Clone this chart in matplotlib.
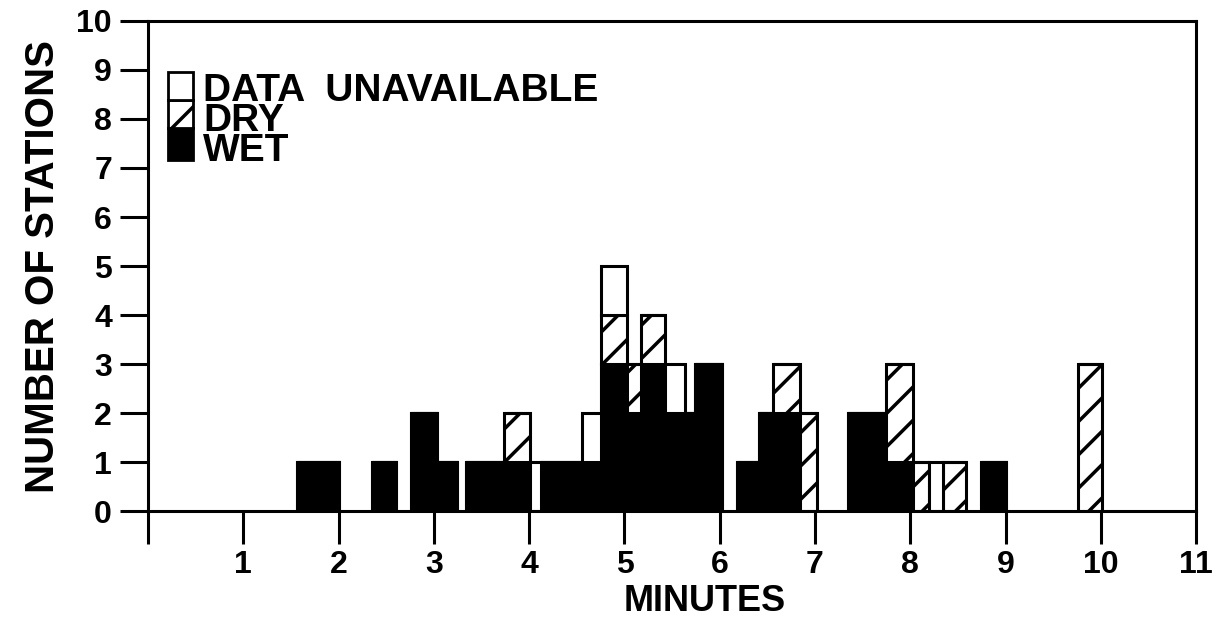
import numpy as np
import matplotlib.pyplot as plt
from matplotlib.patches import Rectangle

# bar edges (minutes) and station counts
left_edge = [1.56, 2.35, 2.76, 3.04, 3.34, 3.74, 4.01, 4.12, 4.55, 4.75, 5.03, 5.17, 5.43,
             5.64, 5.74, 6.18, 6.41, 6.56, 6.84, 7.35, 7.75, 8.03, 8.20, 8.34, 8.74, 9.76]
right_edge = [2.02, 2.61, 3.04, 3.25, 3.74, 4.01, 4.12, 4.55, 4.75, 5.03, 5.17, 5.43, 5.64,
              5.74, 6.04, 6.41, 6.56, 6.84, 7.02, 7.75, 8.03, 8.20, 8.34, 8.59, 9.02, 10.01]
wet = [1, 1, 2, 1, 1, 1, 0, 1, 1, 3, 2, 3, 2, 2, 3, 1, 2, 2, 0, 2, 1, 0, 0, 0, 1, 0]
dry = [0, 0, 0, 0, 0, 1, 0, 0, 0, 1, 1, 1, 0, 0, 0, 0, 0, 1, 2, 0, 2, 1, 0, 1, 0, 3]
unavailable = [0, 0, 0, 0, 0, 0, 1, 0, 1, 1, 0, 0, 1, 0, 0, 0, 0, 0, 0, 0, 0, 0, 1, 0, 0, 0]

x_ticks = [0, 1, 2, 3, 4, 5, 6, 7, 8, 9, 10, 11]
x_labels = ["", "1", "2", "3", "4", "5", "6", "7", "8", "9", "10", "11"]
y_ticks = list(range(0, 11))
legend_labels = ["DATA  UNAVAILABLE", "DRY", "WET"]

plt.rcParams['font.family'] = ['Liberation Sans', 'DejaVu Sans']
plt.rcParams['font.weight'] = 'bold'
plt.rcParams['hatch.linewidth'] = 2.5

left = np.array(left_edge)
width = np.array(right_edge) - left
wet = np.array(wet)
dry = np.array(dry)
unavailable = np.array(unavailable)

fig = plt.figure(figsize=(12.18, 6.36), dpi=100)
ax = fig.add_axes([0.1215, 0.1965, 0.8605, 0.7705])

ax.bar(left, wet, width=width, align='edge', color='black', edgecolor='black', linewidth=1.5)
ax.bar(left, dry, width=width, bottom=wet, align='edge', color='white', edgecolor='black',
       linewidth=2.2, hatch='/')
ax.bar(left, unavailable, width=width, bottom=wet + dry, align='edge', color='white',
       edgecolor='black', linewidth=2.2)

ax.set_xlim(0, 11)
ax.set_ylim(0, 10)
ax.set_xticks(x_ticks)
ax.set_xticklabels(x_labels)
ax.set_yticks(y_ticks)
ax.tick_params(axis='both', direction='out', width=2.2, labelsize=23, color='black')
ax.tick_params(axis='x', length=24, pad=4)
ax.tick_params(axis='y', length=20, pad=6)
for s in ax.spines.values():
    s.set_linewidth(2.2)

ax.set_xlabel("MINUTES", fontsize=26, fontweight='bold')
ax.xaxis.set_label_coords(0.531, -0.149)
ax.set_ylabel("NUMBER OF STATIONS", fontsize=29, fontweight='bold', labelpad=10)

# legend drawn as a stacked key box
tr = ax.transAxes
ax.add_patch(Rectangle((0.019, 0.716), 0.024, 0.066, transform=tr, facecolor='black',
                       edgecolor='black', linewidth=2, clip_on=False))
ax.add_patch(Rectangle((0.019, 0.782), 0.024, 0.057, transform=tr, facecolor='white',
                       edgecolor='black', linewidth=2, hatch='/', clip_on=False))
ax.add_patch(Rectangle((0.019, 0.839), 0.024, 0.057, transform=tr, facecolor='white',
                       edgecolor='black', linewidth=2, clip_on=False))
ax.text(0.0525, 0.893, "\n".join(legend_labels), transform=tr, fontsize=28,
        fontweight='bold', va='top', linespacing=0.78)

fig.savefig("out.png", dpi=100)
